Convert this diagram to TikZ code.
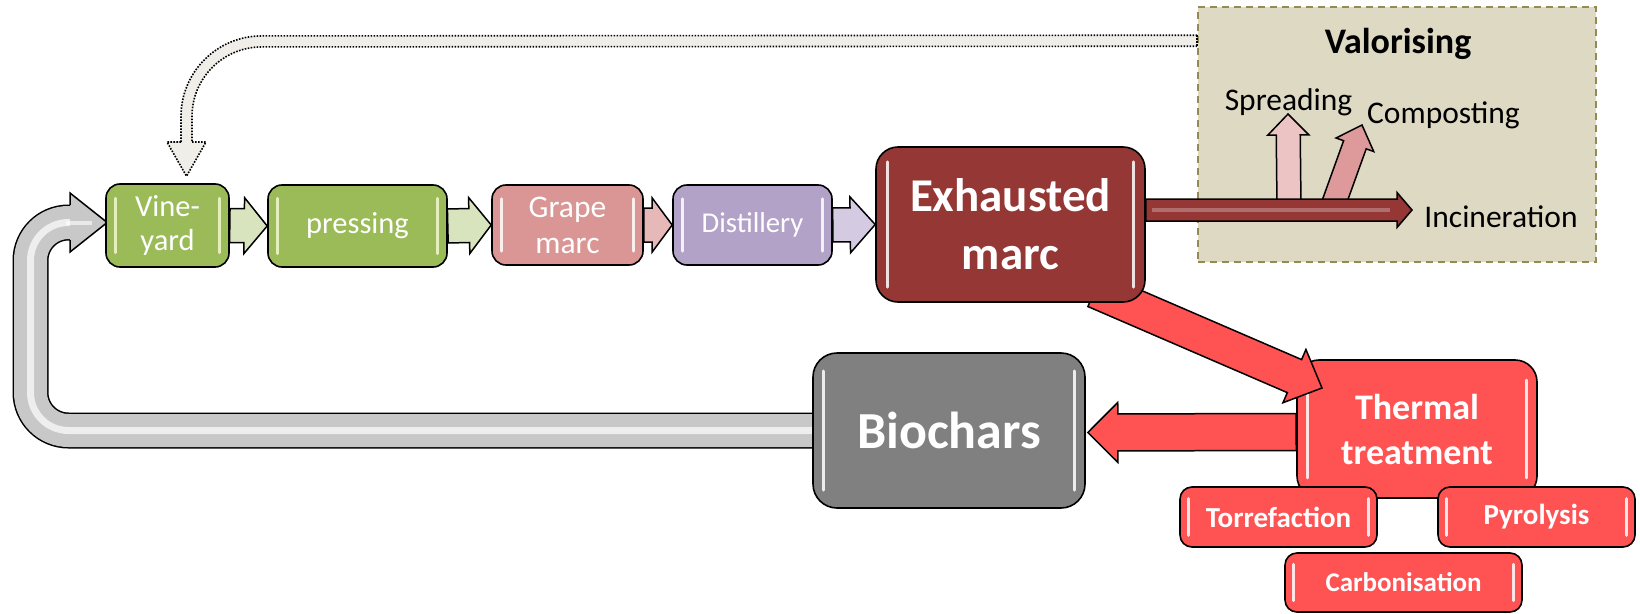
\documentclass[tikz,border=0pt]{standalone}
\usepackage{fontspec}
\setmainfont{Carlito}
\usetikzlibrary{calc}

\pgfdeclarelayer{base}
\pgfdeclarelayer{arrows}
\pgfdeclarelayer{thermal}
\pgfdeclarelayer{diag}
\pgfsetlayers{base,arrows,thermal,diag,main}

\definecolor{vgreen}{HTML}{9BBB59}
\definecolor{vgreenlt}{HTML}{D7E4BD}
\definecolor{vglint}{HTML}{F2F9CF}
\definecolor{grape}{HTML}{D99694}
\definecolor{grapelt}{HTML}{E6B9B8}
\definecolor{lav}{HTML}{B3A2C7}
\definecolor{lavlt}{HTML}{D4CBE2}
\definecolor{exred}{HTML}{953735}
\definecolor{bgray}{HTML}{808080}
\definecolor{tred}{HTML}{FF5353}
\definecolor{valfill}{HTML}{DDD9C3}
\definecolor{valline}{HTML}{948A54}
\definecolor{dotfill}{HTML}{F0EEE8}
\definecolor{retgray}{HTML}{C8C8C8}
\definecolor{spreadc}{HTML}{ECC4C4}
\definecolor{compc}{HTML}{DE9A9A}

% straight block arrow: start, tip, shaft half width, head half width, head length, style
\newcommand{\barrow}[6]{%
  \path let \p1=($(#2)-(#1)$), \n1={atan2(\y1,\x1)}, \n2={veclen(\x1,\y1)} in
    \pgfextra{\xdef\barang{\n1}\xdef\barlen{\n2}};
  \begin{scope}[shift={(#1)}, rotate=\barang, x=1pt, y=1pt]
    \draw[#6] (0,-#3) -- ({\barlen-#5},-#3) -- ({\barlen-#5},-#4) -- (\barlen,0)
      -- ({\barlen-#5},#4) -- ({\barlen-#5},#3) -- (0,#3) -- cycle;
  \end{scope}}

% glossy highlight strokes near the left and right edges of a box
\newcommand{\glint}[4]{%
  \draw[line width=3pt, line cap=round, draw=#3, opacity=.85]
    ($(#1.north west)!#4!(#1.south west)+(#2,0)$) --
    ($(#1.south west)!#4!(#1.north west)+(#2,0)$);
  \draw[line width=3pt, line cap=round, draw=#3, opacity=.85]
    ($(#1.north east)!#4!(#1.south east)+(-#2,0)$) --
    ($(#1.south east)!#4!(#1.north east)+(-#2,0)$);}

\tikzset{
  box/.style={draw=black, line width=1.6pt, rounded corners=14pt, inner sep=0pt,
    text=white, align=center},
  redbox/.style={box, fill=tred, rounded corners=12pt, minimum height=60pt,
    font=\bfseries\fontsize{29}{32}\selectfont},
  blockarrow/.style={draw=black, line width=1.5pt, line join=miter},
  dotline/.style={draw=black, line width=1.6pt, dash pattern=on 1.6pt off 1.4pt},
  label/.style={anchor=base, text=black, font=\fontsize{31.5}{36}\selectfont}
}

\begin{document}
\begin{tikzpicture}[x=1pt, y=-1pt]
\useasboundingbox (0,0) rectangle (1640,613);

% ---------- boxes of the process chain ----------
\node[box, fill=vgreen, minimum width=123pt, minimum height=83pt,
  font=\fontsize{30.5}{34}\selectfont] (vine) at (167.5,225.5) {Vine-\\yard};
\node[box, fill=vgreen, minimum width=179pt, minimum height=82pt,
  font=\fontsize{30.5}{34}\selectfont] (press) at (357.5,226) {pressing};
\node[box, fill=grape, minimum width=151pt, minimum height=80pt,
  font=\fontsize{31.5}{36}\selectfont] (grape) at (567.5,225) {Grape\\marc};
\node[box, fill=lav, minimum width=159pt, minimum height=80pt,
  font=\fontsize{28.7}{32}\selectfont] (dist) at (752.5,225) {Distillery};
\node[box, fill=exred, rounded corners=22pt, minimum width=269pt, minimum height=155pt,
  font=\bfseries\fontsize{47}{58}\selectfont] (exh) at (1010.5,224.5) {Exhausted\\marc};
\node[box, fill=bgray, rounded corners=24pt, minimum width=272pt, minimum height=155pt,
  font=\bfseries\fontsize{52}{60}\selectfont] (bio) at (949,430.5) {Biochars};

\begin{pgfonlayer}{thermal}
  \node[box, fill=tred, rounded corners=22pt, minimum width=240pt, minimum height=138pt,
    font=\bfseries\fontsize{36}{45}\selectfont] (therm) at (1417,429) {Thermal\\treatment};
  \glint{therm}{11}{white}{.15}
\end{pgfonlayer}

\node[redbox, minimum width=197pt] (torr) at (1278.5,517) {Torrefaction};
\node[redbox, minimum width=197pt] (pyro) at (1536.5,517) {Pyrolysis};
\node[redbox, minimum width=237pt, minimum height=59pt,
  font=\bfseries\fontsize{27}{30}\selectfont] (carb) at (1403.5,582.5) {Carbonisation};

\glint{vine}{10}{vglint}{.18}
\glint{press}{10}{vglint}{.17}
\glint{grape}{10}{white}{.18}
\glint{dist}{10}{white}{.18}
\glint{exh}{12}{white}{.1}
\glint{bio}{11}{white}{.12}
\glint{torr}{9}{white}{.2}
\glint{pyro}{9}{white}{.2}
\glint{carb}{9}{white}{.2}

% ---------- valorising panel ----------
\begin{pgfonlayer}{base}
  \fill[white] (0,0) rectangle (1640,613);
  \node[draw=valline, dash pattern=on 7pt off 5pt, line width=1.6pt, fill=valfill,
    minimum width=398pt, minimum height=255pt, inner sep=0pt] (valor) at (1397,134.5) {};
\end{pgfonlayer}
\node[anchor=base, font=\bfseries\fontsize{36}{40}\selectfont] (valt) at (1398,53) {Valorising};
\node[label] (spl) at (1288.5,110) {Spreading};
\node[label] (cpl) at (1443.5,123) {Composting};
\node[label] (inl) at (1501,227) {Incineration};

% ---------- connectors ----------
\coordinate (incs) at ($(exh.east)+(0,-14.5)$);
\coordinate (inct) at (1412,210);
\coordinate (sps) at (1289,206);
\coordinate (spt) at (1288,114);
\coordinate (cps) at (1332.5,207);
\coordinate (cpt) at (1362,125);
\coordinate (tbs) at ($(therm.west)+(0,3)$);
\coordinate (tbt) at ($(bio.east)+(2,2)$);
\coordinate (dgs) at (1095,290);
\coordinate (dgt) at (1322,388);

\begin{pgfonlayer}{arrows}
  % arrows along the chain
  \barrow{vine.east}{press.west}{17}{28}{23}{blockarrow, fill=vgreenlt}
  \barrow{press.east}{grape.west}{17}{28}{22}{blockarrow, fill=vgreenlt}
  \barrow{grape.east}{dist.west}{17}{27}{20}{blockarrow, fill=grapelt}
  \barrow{dist.east}{exh.west}{17}{28}{25}{blockarrow, fill=lavlt}

  % valorising routes
  \barrow{sps}{spt}{12}{20.5}{21}{blockarrow, fill=spreadc}
  \barrow{cps}{cpt}{12}{20}{21}{blockarrow, fill=compc}
  \barrow{incs}{inct}{11}{17.5}{15}{blockarrow, fill=exred}
  \draw[line width=4pt, draw=exred!55!white, opacity=.6] ($(incs)+(6,0)$) -- ($(inct)+(-22,0)$);

  % thermal treatment back to biochars
  \barrow{tbs}{tbt}{18.5}{30}{30}{blockarrow, fill=tred}

  % return loop from biochars to the vineyard
  \coordinate (rb) at (30.5,430.5);
  \coordinate (rt) at (30.5,222.5);
  \coordinate (rh) at (71,222.5);
  \coordinate (rtip) at ($(vine.west)+(2,-3)$);
  \draw[line width=36pt, black, rounded corners=38pt] (bio.west) -- (rb) -- (rt) -- (rh);
  \draw[line width=33pt, retgray, rounded corners=38pt] (bio.west) -- (rb) -- (rt) -- (rh);
  \draw[line width=7pt, white, opacity=.7, rounded corners=38pt] (bio.west) -- (rb) -- (rt) -- (rh);
  \fill[retgray] (70,204) -- (70,193) -- (rtip) -- (70,252) -- (70,241) -- cycle;
  \draw[line width=1.5pt] (70,205) -- (70,193) -- (rtip) -- (70,252) -- (70,240);
  \draw[line width=4pt, white, opacity=.6] (66,222.5) -- (92,222.5);

  % feedback from valorising to the vineyard
  \coordinate (dA) at ($(valor.north west)+(0,34.5)$);
  \coordinate (dT) at ($(vine.north)+(19,-7)$);
  \draw[line width=11pt, dotfill, rounded corners=75pt] (dA) -- (186.5,41.5) -- (186.5,143);
  \draw[dotline, rounded corners=80.5pt] ($(valor.north west)+(0,29)$) -- (181,36) -- (181,142);
  \draw[dotline, rounded corners=69.5pt] ($(valor.north west)+(0,40)$) -- (192,47) -- (192,142);
  \draw[dotline] ($(valor.north west)+(0,29)$) -- ($(valor.north west)+(0,40)$);
  \fill[dotfill] (167,142) -- (206,142) -- (dT) -- cycle;
  \draw[dotline] (181,142) -- (167,142) -- (dT) -- (206,142) -- (192,142);
\end{pgfonlayer}

\begin{pgfonlayer}{diag}
  \barrow{dgs}{dgt}{18}{29}{30}{blockarrow, fill=tred}
\end{pgfonlayer}

\end{tikzpicture}
\end{document}
